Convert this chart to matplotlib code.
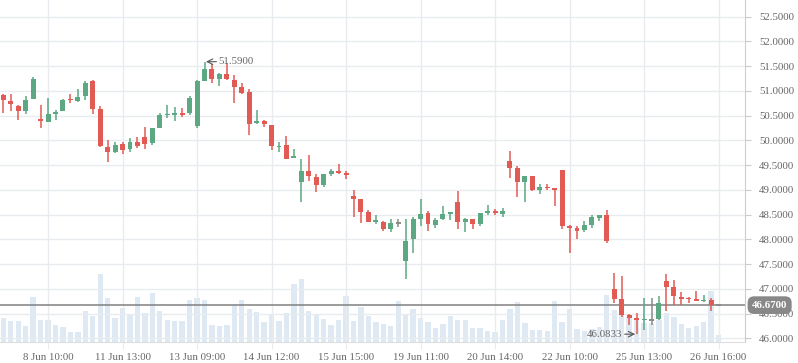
import numpy as np
import matplotlib
matplotlib.use('Agg')
import matplotlib.pyplot as plt

# candle data
opens = [50.91, 50.80, 50.70, 50.59, 50.84, 50.42, 50.38, 50.54, 50.59, 50.84,
         50.80, 50.89, 51.21, 50.64, 49.86, 49.76, 49.93, 49.82, 49.97, 50.07,
         49.94, 50.26, 50.51, 50.53, 50.55, 50.55, 50.30, 51.20, 51.44, 51.25,
         51.34, 51.23, 51.08, 50.97, 50.36, 50.39, 50.31, 49.87, 49.90, 49.65,
         49.16, 49.38, 49.26, 49.10, 49.33, 49.38, 49.34, 48.87, 48.81, 48.55,
         48.37, 48.35, 48.21, 48.32, 47.56, 48.00, 48.41, 48.53, 48.29, 48.41,
         48.52, 48.75, 48.36, 48.41, 48.31, 48.54, 48.57, 48.52, 49.58, 49.44,
         49.16, 49.28, 48.99, 49.06, 49.03, 49.40, 48.26, 48.23, 48.18, 48.29,
         48.44, 48.49, 46.99, 46.79, 46.47, 46.41, 46.36, 46.37, 46.38, 47.16,
         47.04, 46.84, 46.82, 46.79, 46.75, 46.77, 46.67]
highs = [50.94, 50.94, 50.72, 50.89, 51.29, 50.72, 50.86, 50.62, 50.84, 50.94,
         51.03, 51.21, 51.23, 50.70, 50.01, 49.97, 49.97, 50.05, 50.07, 50.28,
         50.26, 50.56, 50.72, 50.68, 50.65, 50.89, 51.22, 51.59, 51.54, 51.37,
         51.57, 51.32, 51.15, 51.04, 50.61, 50.42, 50.32, 49.97, 50.09, 49.82,
         49.62, 49.70, 49.33, 49.32, 49.42, 49.52, 49.38, 48.99, 48.81, 48.59,
         48.49, 48.38, 48.41, 48.41, 48.41, 48.46, 48.81, 48.57, 48.43, 48.67,
         48.56, 48.98, 48.43, 48.41, 48.53, 48.69, 48.61, 48.63, 49.78, 49.48,
         49.29, 49.28, 49.12, 49.12, 49.03, 49.40, 48.29, 48.27, 48.37, 48.49,
         48.49, 48.59, 47.31, 47.26, 46.50, 46.52, 46.82, 46.82, 46.85, 47.30,
         47.18, 46.94, 46.84, 46.95, 46.87, 46.82, 46.67]
lows = [50.55, 50.59, 50.42, 50.54, 50.83, 50.24, 50.38, 50.42, 50.59, 50.76,
        50.78, 50.82, 50.54, 49.86, 49.57, 49.74, 49.73, 49.77, 49.84, 49.82,
        49.91, 50.26, 50.46, 50.40, 50.47, 50.51, 50.26, 51.20, 51.15, 51.10,
        51.22, 50.76, 50.93, 50.11, 50.34, 50.27, 49.80, 49.77, 49.62, 49.65,
        48.76, 49.18, 48.96, 49.06, 49.29, 49.33, 49.22, 48.45, 48.32, 48.36,
        48.30, 48.17, 48.15, 48.24, 47.20, 47.73, 48.26, 48.17, 48.23, 48.39,
        48.39, 48.21, 48.15, 48.21, 48.27, 48.49, 48.49, 48.45, 49.24, 48.85,
        48.76, 48.98, 48.91, 48.99, 48.68, 48.21, 47.73, 48.01, 48.15, 48.23,
        48.38, 47.93, 46.72, 46.44, 46.27, 46.0833, 46.17, 46.27, 46.37, 46.56,
        46.67, 46.67, 46.71, 46.76, 46.74, 46.55, 46.67]
closes = [50.81, 50.74, 50.59, 50.82, 51.25, 50.41, 50.54, 50.58, 50.82, 50.81,
          50.88, 51.15, 50.63, 49.88, 49.76, 49.91, 49.81, 49.97, 49.89, 49.92,
          50.26, 50.52, 50.53, 50.55, 50.53, 50.86, 51.21, 51.44, 51.24, 51.34,
          51.24, 51.08, 50.95, 50.34, 50.39, 50.34, 49.89, 49.89, 49.62, 49.68,
          49.38, 49.27, 49.10, 49.32, 49.38, 49.35, 49.31, 48.81, 48.56, 48.36,
          48.38, 48.21, 48.33, 48.32, 47.97, 48.41, 48.51, 48.31, 48.39, 48.51,
          48.54, 48.36, 48.41, 48.31, 48.53, 48.57, 48.54, 48.57, 49.44, 49.16,
          49.27, 48.99, 49.06, 49.03, 49.00, 48.27, 48.24, 48.17, 48.29, 48.46,
          48.49, 47.97, 46.80, 46.47, 46.42, 46.36, 46.39, 46.37, 46.71, 47.04,
          46.86, 46.79, 46.80, 46.77, 46.78, 46.67, 46.67]
volumes = [73, 64, 64, 49, 136, 67, 67, 52, 46, 31, 31, 94, 79, 205, 133, 73,
           103, 82, 136, 88, 148, 94, 67, 64, 64, 127, 133, 127, 52, 49, 52, 111,
           127, 100, 91, 61, 85, 64, 88, 175, 190, 94, 85, 70, 52, 67, 139, 64,
           106, 79, 61, 55, 49, 124, 86, 100, 73, 61, 43, 55, 79, 67, 67, 43, 43,
           34, 31, 67, 100, 121, 58, 37, 37, 34, 125, 61, 100, 40, 34, 40, 47,
           142, 97, 82, 77, 67, 59, 57, 67, 87, 77, 55, 44, 49, 62, 154, 22]

tick_pos = [6, 16, 26, 36, 46, 56, 66, 76, 86, 96]
tick_labels = ['8 Jun 10:00', '11 Jun 13:00', '13 Jun 09:00', '14 Jun 12:00',
               '15 Jun 15:00', '19 Jun 11:00', '20 Jun 14:00', '22 Jun 10:00',
               '25 Jun 13:00', '26 Jun 16:00']
price_ticks = [46.0, 46.5, 47.0, 47.5, 48.0, 48.5, 49.0, 49.5, 50.0, 50.5,
               51.0, 51.5, 52.0, 52.5]
last_price = 46.67

UP = '#5ba883'
DOWN = '#e15b54'
FLAT = '#8a8a8a'
GRID = '#e8ebef'
TXT = '#666666'
plt.rcParams['font.family'] = ['Liberation Serif', 'DejaVu Serif']

fig = plt.figure(figsize=(7.98, 3.63), dpi=100)
ax = fig.add_axes([0, 20.7 / 363, 745 / 798, 342.3 / 363])
axv = ax.twinx()
ax.set_zorder(axv.get_zorder() + 1)
ax.patch.set_visible(False)

x = np.arange(len(opens))

# volume
axv.bar(x, volumes, width=0.72, color='#c9dbec', alpha=0.6, zorder=1)
axv.set_ylim(0, 1027)
axv.set_yticks([])
for s in axv.spines.values():
    s.set_visible(False)

# grid
for p in price_ticks:
    ax.axhline(p, color=GRID, lw=1, zorder=0)
for t in tick_pos:
    ax.axvline(t, color=GRID, lw=1, zorder=0)

ax.axhline(last_price, color='#808080', lw=1.1, zorder=2)

# candles
for i in range(len(opens)):
    o, h, l, c = opens[i], highs[i], lows[i], closes[i]
    col = UP if c > o else (DOWN if c < o else FLAT)
    ax.vlines(i, l, h, color=col, lw=1.1, zorder=3)
    bh = abs(c - o)
    if bh < 0.02:
        ax.hlines((o + c) / 2, i - 0.33, i + 0.33, color=col, lw=1.4, zorder=4)
    if bh > 0:
        ax.bar(i, max(bh, 0.02), bottom=min(o, c), width=0.66, color=col,
               lw=0, zorder=4)

ax.set_xlim(-0.45, 99.55)
ax.set_ylim(45.919, 52.837)

ax.yaxis.tick_right()
ax.set_yticks(price_ticks)
ax.set_yticklabels(['%.4f' % p for p in price_ticks])
ax.set_xticks(tick_pos)
ax.set_xticklabels(tick_labels)
ax.tick_params(axis='y', length=4, color='#cccccc', pad=6, labelsize=7.8,
               labelcolor=TXT)
ax.tick_params(axis='x', length=5, color=GRID, pad=3, labelsize=7.8,
               labelcolor=TXT)
for side in ['top', 'left']:
    ax.spines[side].set_visible(False)
ax.spines['right'].set_color('#cccccc')
ax.spines['bottom'].set_color('#dddddd')

# max / min markers
imax = int(np.argmax(highs))
imin = int(np.argmin(lows))
ax.annotate('', xy=(imax + 0.2, highs[imax]), xytext=(imax + 1.6, highs[imax]),
            arrowprops=dict(arrowstyle='->', color='#555555', lw=0.8,
                            shrinkA=0, shrinkB=0), zorder=5)
ax.text(imax + 1.9, highs[imax], '%.4f' % highs[imax], ha='left',
        va='center', fontsize=7.8, color=TXT, zorder=5)
ax.annotate('', xy=(imin - 0.2, lows[imin]), xytext=(imin - 1.6, lows[imin]),
            arrowprops=dict(arrowstyle='->', color='#555555', lw=0.8,
                            shrinkA=0, shrinkB=0), zorder=5)
ax.text(imin - 1.9, lows[imin], '%.4f' % lows[imin], ha='right',
        va='center', fontsize=7.8, color=TXT, zorder=5)

# last price label
ax.annotate('%.4f' % last_price, xy=(1, last_price),
            xycoords=('axes fraction', 'data'), xytext=(5, 0),
            textcoords='offset points', ha='left', va='center', fontsize=7.8,
            color='white', fontweight='bold', annotation_clip=False, zorder=6,
            bbox=dict(boxstyle='round,pad=0.4,rounding_size=0.6',
                      fc='#888888', ec='none'))

fig.savefig('out.png', dpi=100)
